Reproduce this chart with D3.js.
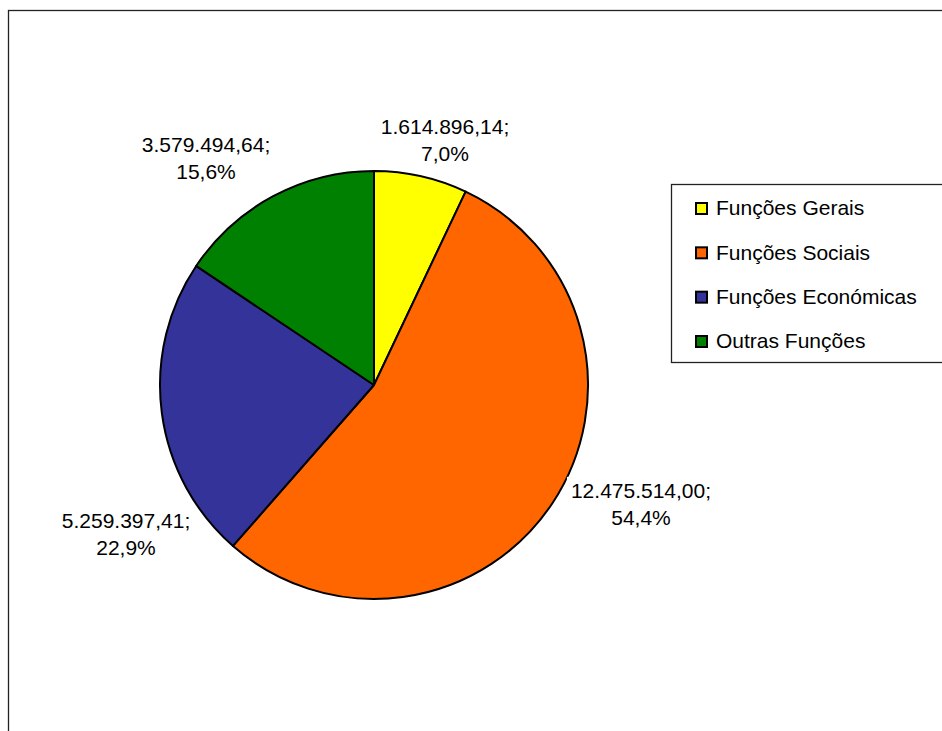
<!DOCTYPE html>
<html><head><meta charset="utf-8">
<script src="https://cdn.jsdelivr.net/npm/d3@7"></script>
<style>html,body{margin:0;padding:0;background:#fff;}svg{display:block;}</style>
</head><body>
<svg id="c" width="942" height="731"></svg>
<script>
const categories = ["Funções Gerais","Funções Sociais","Funções Económicas","Outras Funções"];
const values = [1614896.14, 12475514.00, 5259397.41, 3579494.64];
const valueLabels = ["1.614.896,14;","12.475.514,00;","5.259.397,41;","3.579.494,64;"];
const percentLabels = ["7,0%","54,4%","22,9%","15,6%"];
const colors = ["#FFFF00","#FF6600","#333399","#008000"];

// layout
const W = 942, H = 731;
const cx = 374, cy = 385, R = 214;
const labelOffsets = [[71,-245],[267,119],[-248,149],[-168,-227]];
const fontFamily = "'Liberation Sans', Arial, sans-serif";
const fs = 21;

const svg = d3.select("#c");
svg.append("rect").attr("x",8.5).attr("y",10.5).attr("width",W).attr("height",H)
  .attr("fill","#fff").attr("stroke","#222").attr("stroke-width",1.3);

const pie = d3.pie().sort(null).value(d=>d);
const arcs = pie(values);
const arc = d3.arc().innerRadius(0).outerRadius(R);
const g = svg.append("g").attr("transform",`translate(${cx},${cy})`);
g.selectAll("path").data(arcs).join("path")
  .attr("d",arc).attr("fill",(d,i)=>colors[i])
  .attr("stroke","#000").attr("stroke-width",2).attr("stroke-linejoin","round");

// labels
const lg = g.append("g").attr("font-family",fontFamily).attr("font-size",fs).attr("fill","#000");
arcs.forEach((d,i)=>{
  const [ox,oy] = labelOffsets[i];
  const t = lg.append("g").attr("transform",`translate(${ox},${oy})`);
  const text = t.append("text").attr("text-anchor","middle");
  text.append("tspan").attr("x",0).attr("y",-13.5).attr("dy","0.35em").text(valueLabels[i]);
  text.append("tspan").attr("x",0).attr("y",13.5).attr("dy","0.35em").text(percentLabels[i]);
  const bb = text.node().getBBox();
  t.insert("rect","text").attr("x",bb.x-4).attr("y",bb.y-2).attr("width",bb.width+8).attr("height",bb.height+4).attr("fill","#fff");
});

// legend
const leg = svg.append("g");
leg.append("rect").attr("x",671.5).attr("y",184.5).attr("width",300).attr("height",178)
  .attr("fill","#fff").attr("stroke","#222").attr("stroke-width",1.3);
const rowY = d3.scalePoint().domain(categories).range([208,341]);
categories.forEach((c,i)=>{
  const y = rowY(c);
  leg.append("rect").attr("x",696).attr("y",y-5).attr("width",11).attr("height",11)
    .attr("fill",colors[i]).attr("stroke","#000").attr("stroke-width",2);
  leg.append("text").attr("x",716).attr("y",y).attr("dy","0.35em")
    .attr("font-family",fontFamily).attr("font-size",fs).attr("fill","#000").text(c);
});
</script>
</body></html>
